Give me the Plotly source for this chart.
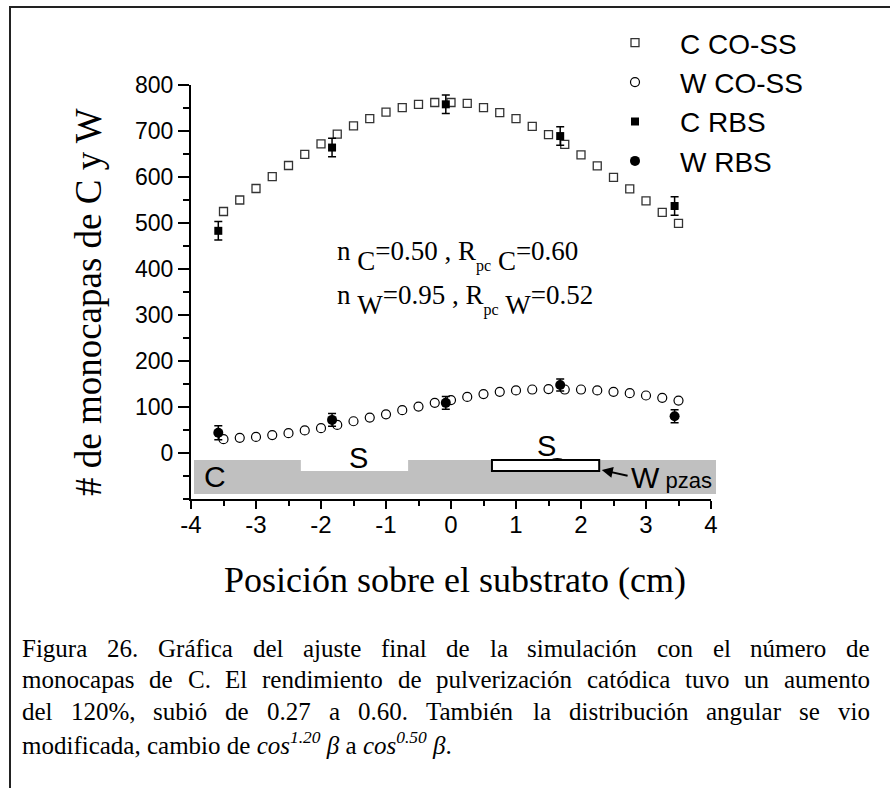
import plotly.graph_objects as go

# ---------------- data ----------------
x_sim = [-3.5, -3.25, -3.0, -2.75, -2.5, -2.25, -2.0, -1.75, -1.5, -1.25, -1.0, -0.75, -0.5, -0.25,
         0.0, 0.25, 0.5, 0.75, 1.0, 1.25, 1.5, 1.75, 2.0, 2.25, 2.5, 2.75, 3.0, 3.25, 3.5]
c_coss = [525, 550, 575, 601, 625, 649, 672, 693, 711, 727, 741, 751, 758, 762,
          762, 760, 751, 740, 727, 710, 692, 671, 648, 624, 599, 574, 548, 523, 499]
w_coss = [30, 33, 35, 39, 43, 49, 54, 61, 69, 77, 84, 93, 101, 109,
          115, 122, 128, 133, 136, 138, 139, 138, 138, 136, 133, 130, 125, 120, 114]
x_rbs = [-3.58, -1.83, -0.08, 1.68, 3.44]
c_rbs = [483, 664, 758, 689, 537]
c_rbs_err = [20, 20, 20, 20, 20]
w_rbs = [44, 72, 109, 148, 80]
w_rbs_err = [15, 14, 14, 13, 14]
x_tickvals = [-4, -3, -2, -1, 0, 1, 2, 3, 4]
x_ticktext = ["-4", "-3", "-2", "-1", "0", "1", "2", "3", "4"]
y_tickvals = [0, 100, 200, 300, 400, 500, 600, 700, 800]
y_ticktext = ["0", "100", "200", "300", "400", "500", "600", "700", "800"]
series_names = ["C CO-SS", "W CO-SS", "C RBS", "W RBS"]

# ---------------- geometry ----------------
W, H = 890, 788
L, R, T, B = 191, 179, 85, 289
PW, PH = W - L - R, H - T - B


def px(xp):
    return (xp - L) / PW


def py(yp):
    return (H - B - yp) / PH


SANS = "Liberation Sans, Arial, sans-serif"
SERIF = "Liberation Serif, Times New Roman, serif"

fig = go.Figure()
fig.add_trace(go.Scatter(x=x_sim, y=c_coss, mode="markers", name=series_names[0],
                         marker=dict(symbol="square-open", size=8, color="#333333",
                                     line=dict(width=1.3, color="#333333"))))
fig.add_trace(go.Scatter(x=x_sim, y=w_coss, mode="markers", name=series_names[1],
                         marker=dict(symbol="circle-open", size=9, color="black",
                                     line=dict(width=1.2, color="black"))))
fig.add_trace(go.Scatter(x=x_rbs, y=c_rbs, mode="markers", name=series_names[2],
                         marker=dict(symbol="square", size=8, color="black"),
                         error_y=dict(type="data", array=c_rbs_err, color="black",
                                      thickness=1.5, width=4)))
fig.add_trace(go.Scatter(x=x_rbs, y=w_rbs, mode="markers", name=series_names[3],
                         marker=dict(symbol="circle", size=10, color="black"),
                         error_y=dict(type="data", array=w_rbs_err, color="black",
                                      thickness=1.5, width=4)))

fig.update_xaxes(range=[-4, 4], tickmode="array", tickvals=x_tickvals, ticktext=x_ticktext,
                 ticks="outside", ticklen=8, tickwidth=2, tickcolor="black",
                 ticklabelstandoff=-5,
                 showline=True, linewidth=2, linecolor="black",
                 showgrid=False, zeroline=False,
                 minor=dict(dtick=0.5, tick0=0, ticks="outside", ticklen=5,
                            tickwidth=2, tickcolor="black", showgrid=False),
                 tickfont=dict(family=SANS, size=24, color="black"))
fig.update_yaxes(range=[-100, 800], tickmode="array", tickvals=y_tickvals, ticktext=y_ticktext,
                 ticks="outside", ticklen=11, tickwidth=2, tickcolor="black",
                 showline=True, linewidth=2, linecolor="black",
                 showgrid=False, zeroline=False,
                 minor=dict(dtick=50, tick0=0, ticks="outside", ticklen=6,
                            tickwidth=2, tickcolor="black", showgrid=False),
                 tickfont=dict(family=SANS, size=23, color="black"))

shapes = [
    # outer frame of the figure
    dict(type="rect", xref="paper", yref="paper", x0=px(10), x1=px(905),
         y0=py(805), y1=py(7), line=dict(color="#222222", width=2),
         fillcolor="rgba(0,0,0,0)", layer="above"),
    # grey substrate holder
    dict(type="rect", xref="paper", yref="y", x0=px(194), x1=px(716), y0=-89, y1=-15,
         fillcolor="#c0c0c0", line=dict(width=0), layer="below"),
    # white substrate (left)
    dict(type="rect", xref="x", yref="y", x0=-2.31, x1=-0.66, y0=-39, y1=-15,
         fillcolor="white", line=dict(width=0), layer="below"),
    # small bump
    dict(type="circle", xref="x", yref="y", x0=1.55, x1=1.72, y0=-19, y1=-11,
         fillcolor="black", line=dict(width=0), layer="below"),
    # outlined substrate (right)
    dict(type="rect", xref="x", yref="y", x0=0.63, x1=2.28, y0=-39, y1=-15,
         fillcolor="white", line=dict(color="black", width=2), layer="below"),
]

ann = []
# axis titles
ann.append(dict(xref="paper", yref="paper", x=px(88), y=py(302), text="# de monocapas de C y W",
                textangle=-90, showarrow=False, xanchor="center", yanchor="middle",
                font=dict(family=SERIF, size=37, color="black")))
ann.append(dict(xref="paper", yref="paper", x=px(455), y=py(580),
                text="Posición sobre el substrato (cm)", showarrow=False,
                xanchor="center", yanchor="middle",
                font=dict(family=SERIF, size=36, color="black")))

# labels on the holder
ann.append(dict(x=-3.63, y=-52, text="C", showarrow=False,
                font=dict(family=SANS, size=30, color="black")))
ann.append(dict(x=-1.43, y=-10, text="S", showarrow=False,
                font=dict(family=SANS, size=29, color="black")))
ann.append(dict(x=1.47, y=16, text="S", showarrow=False,
                font=dict(family=SANS, size=29, color="black")))
ann.append(dict(x=2.74, y=-54, text="W<span style='font-size:22px'> pzas</span>",
                showarrow=False, xanchor="left",
                font=dict(family=SANS, size=30, color="black")))
ann.append(dict(x=2.32, y=-37, ax=2.74, ay=-50, axref="x", ayref="y", text="",
                showarrow=True, arrowhead=2, arrowsize=1.1, arrowwidth=2,
                arrowcolor="black"))


def low(s, outer=46, inner=27):
    return ("<span style='font-size:%dpx'><sub><span style='font-size:%dpx'>%s</span></sub></span>"
            % (outer, inner, s))


line1 = "n " + low("C") + "=0.50 , R" + low("pc", 54, 16) + " " + low("C") + "=0.60"
line2 = "n " + low("W") + "=0.95 , R" + low("pc", 54, 16) + " " + low("W") + "=0.52"
ann.append(dict(x=-1.78, y=428, text=line1, showarrow=False, xanchor="left", yanchor="middle",
                font=dict(family=SERIF, size=27, color="black")))
ann.append(dict(x=-1.78, y=332, text=line2, showarrow=False, xanchor="left", yanchor="middle",
                font=dict(family=SERIF, size=27, color="black")))

# ---------------- caption (justified) ----------------
TW = {' ': 250, 'a': 444, 'b': 500, 'c': 444, 'd': 500, 'e': 444, 'f': 333, 'g': 500, 'h': 500,
      'i': 278, 'j': 278, 'k': 500, 'l': 278, 'm': 778, 'n': 500, 'o': 500, 'p': 500, 'q': 500,
      'r': 333, 's': 389, 't': 278, 'u': 500, 'v': 500, 'w': 722, 'x': 500, 'y': 500, 'z': 444,
      'A': 722, 'C': 667, 'E': 611, 'F': 556, 'G': 722, 'T': 611, '0': 500, '1': 500, '2': 500,
      '3': 500, '4': 500, '5': 500, '6': 500, '7': 500, '8': 500, '9': 500, '.': 250, ',': 250,
      '%': 833, 'á': 444, 'é': 444, 'í': 278, 'ó': 500, 'ú': 500}
CF = 25
cap_lines = [
    "Figura 26. Gráfica del ajuste final de la simulación con el número de",
    "monocapas de C. El rendimiento de pulverización catódica tuvo un aumento",
    "del 120%, subió de 0.27 a 0.60. También la distribución angular se vio",
]
cap_last = ("modificada, cambio de <i>cos</i><sup><i>1.20</i></sup> <i>β</i> a "
            "<i>cos</i><sup><i>0.50</i></sup> <i>β</i>.")
CX0, CX1, CY0, CDY = 22, 870, 648, 31.5
for i, line in enumerate(cap_lines):
    words = line.split(" ")
    ws = [sum(TW.get(ch, 500) for ch in w) * CF / 1000 for w in words]
    gap = (CX1 - CX0 - sum(ws)) / (len(words) - 1)
    xc = CX0
    for j, wd in enumerate(words):
        last = j == len(words) - 1
        ann.append(dict(xref="paper", yref="paper", x=px(CX1 if last else xc), y=py(CY0 + CDY * i),
                        text=wd, showarrow=False, xanchor="right" if last else "left",
                        yanchor="middle", borderpad=0, borderwidth=0,
                        font=dict(family=SERIF, size=CF, color="black")))
        xc += ws[j] + gap
ann.append(dict(xref="paper", yref="paper", x=px(CX0), y=py(CY0 + CDY * 3), text=cap_last,
                showarrow=False, xanchor="left", yanchor="middle", borderpad=0, borderwidth=0,
                font=dict(family=SERIF, size=CF, color="black")))

fig.update_layout(
    width=W, height=H, margin=dict(l=L, r=R, t=T, b=B, autoexpand=False),
    paper_bgcolor="white", plot_bgcolor="white",
    shapes=shapes, annotations=ann,
    showlegend=True,
    legend=dict(x=px(590), y=py(18), xanchor="left", yanchor="top", itemwidth=80,
                bgcolor="rgba(0,0,0,0)", tracegroupgap=0,
                font=dict(family=SANS, size=28, color="black")),
)

fig.write_html("out.html")
